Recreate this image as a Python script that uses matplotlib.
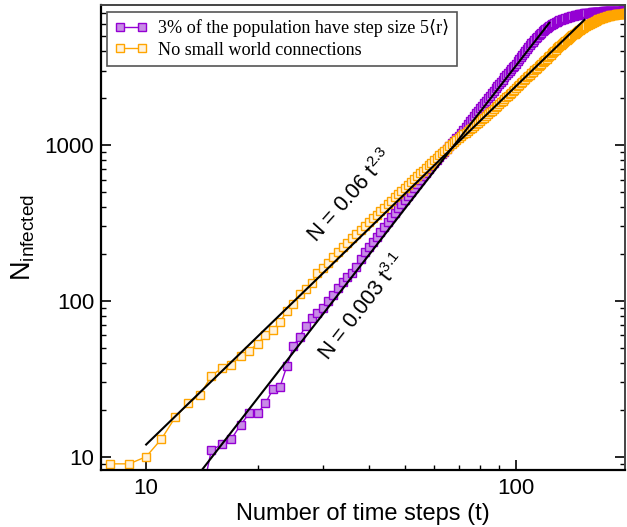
import numpy as np
import matplotlib.pyplot as plt
from matplotlib.ticker import FuncFormatter, NullFormatter, LogLocator

plt.rcParams['font.family'] = ['Liberation Sans', 'DejaVu Sans']
plt.rcParams['mathtext.fontset'] = 'custom'
plt.rcParams['mathtext.rm'] = 'Liberation Sans'
plt.rcParams['mathtext.it'] = 'Liberation Sans:italic'
plt.rcParams['mathtext.bf'] = 'Liberation Sans:bold'

# --- infected counts per time step ---------------------------------------
# 3% of the population with long steps (small world links)
t_sw = np.arange(14, 201)
n_sw = [
    5, 11, 12, 13, 16, 19, 19, 22, 27, 28,
    38, 51, 59, 69, 78, 84, 90, 100, 109, 121,
    132, 142, 150, 166, 186, 205, 222, 240, 258, 278,
    299, 320, 343, 367, 392, 418, 445, 473, 501, 531,
    562, 595, 628, 663, 699, 731, 765, 799, 834, 870,
    908, 945, 984, 1024, 1065, 1107, 1150, 1200, 1252, 1305,
    1360, 1416, 1474, 1533, 1593, 1656, 1720, 1787, 1856, 1926,
    1998, 2072, 2148, 2226, 2305, 2387, 2470, 2549, 2629, 2711,
    2794, 2879, 2966, 3054, 3144, 3236, 3330, 3435, 3541, 3650,
    3763, 3880, 3998, 4116, 4236, 4357, 4480, 4600, 4718, 4834,
    4948, 5060, 5165, 5268, 5368, 5465, 5560, 5646, 5728, 5806,
    5880, 5950, 6016, 6079, 6139, 6196, 6250, 6298, 6345, 6391,
    6436, 6480, 6518, 6555, 6591, 6626, 6660, 6690, 6719, 6747,
    6775, 6802, 6829, 6855, 6881, 6906, 6930, 6950, 6969, 6987,
    7004, 7020, 7036, 7051, 7065, 7078, 7090, 7101, 7111, 7121,
    7130, 7139, 7148, 7157, 7165, 7173, 7180, 7187, 7194, 7200,
    7206, 7212, 7218, 7224, 7230, 7235, 7240, 7245, 7250, 7255,
    7260, 7265, 7269, 7273, 7277, 7281, 7285, 7288, 7291, 7294,
    7297, 7300, 7302, 7304, 7306, 7308, 7310,
]

# no small world connections
t_no = np.arange(8, 201)
n_no = [
    9, 9, 10, 13, 18, 22, 25, 33, 37, 39,
    44, 48, 53, 60, 65, 73, 86, 95, 110, 120,
    130, 152, 162, 176, 192, 206, 221, 236, 252, 268,
    285, 302, 320, 338, 357, 377, 397, 418, 439, 461,
    483, 506, 530, 554, 579, 605, 631, 657, 685, 713,
    741, 770, 800, 829, 858, 887, 918, 948, 980, 1011,
    1044, 1076, 1110, 1139, 1169, 1199, 1230, 1261, 1292, 1323,
    1355, 1388, 1420, 1458, 1498, 1537, 1577, 1618, 1659, 1701,
    1743, 1786, 1830, 1876, 1923, 1970, 2018, 2067, 2116, 2166,
    2217, 2268, 2320, 2374, 2428, 2484, 2540, 2596, 2653, 2711,
    2770, 2830, 2890, 2950, 3011, 3072, 3134, 3196, 3260, 3324,
    3388, 3454, 3520, 3589, 3660, 3731, 3802, 3875, 3948, 4022,
    4097, 4173, 4250, 4318, 4387, 4456, 4525, 4595, 4665, 4737,
    4807, 4878, 4950, 5010, 5070, 5130, 5190, 5250, 5310, 5370,
    5430, 5490, 5550, 5609, 5667, 5724, 5780, 5835, 5890, 5944,
    5997, 6049, 6100, 6146, 6190, 6233, 6275, 6315, 6354, 6392,
    6429, 6465, 6500, 6533, 6564, 6594, 6623, 6651, 6678, 6705,
    6731, 6756, 6780, 6799, 6817, 6834, 6850, 6865, 6880, 6894,
    6907, 6919, 6930, 6940, 6950, 6959, 6968, 6976, 6984, 6991,
    6998, 7004, 7010,
]

# power-law fits N = a * t^b and the t range each one is drawn over
fit_no = (0.06, 2.3, 10, 153)
fit_sw = (0.00251, 3.055, 14, 123)

labels = ['3% of the population have step size 5\u27e8r\u27e9',
          'No small world connections']

# --- figure ---------------------------------------------------------------
fig = plt.figure(figsize=(6.27, 5.27), dpi=100)
ax = fig.add_axes([0.1611, 0.1082, 0.8357, 0.8824])

ax.plot(t_sw, n_sw, '-s', color='#9400d3', mfc='#c88ce6', mec='#9400d3',
        ms=5.6, mew=1, lw=1, label=labels[0])
ax.plot(t_no, n_no, '-s', color='#ffa500', mfc='#fff2dc', mec='#ffa500',
        ms=5.6, mew=1, lw=1, label=labels[1])

for a, b, t0, t1 in (fit_no, fit_sw):
    tt = np.geomspace(t0, t1, 60)
    ax.plot(tt, a * tt ** b, color='black', lw=1.5)

# fit labels, set along each line
ax.text(35.8, 468, f'N = {fit_no[0]:.1g} t$^{{{fit_no[1]:.1f}}}$',
        rotation=48, ha='center', va='center', fontsize=15.5)
ax.text(38.4, 91, f'N = {fit_sw[0]:.1g} t$^{{{fit_sw[1]:.1f}}}$',
        rotation=52, ha='center', va='center', fontsize=15.5)

ax.set_xscale('log')
ax.set_yscale('log')
ax.set_xlim(7.55, 197)
ax.set_ylim(8.22, 7917)

fmt = FuncFormatter(lambda v, p: f'{v:g}')
for axis in (ax.xaxis, ax.yaxis):
    axis.set_major_locator(LogLocator(base=10))
    axis.set_minor_locator(LogLocator(base=10, subs=np.arange(2, 10)))
    axis.set_major_formatter(fmt)
    axis.set_minor_formatter(NullFormatter())

ax.tick_params(which='both', direction='in', top=False, right=True,
               labelsize=16)
ax.tick_params(axis='x', which='both', pad=6)
ax.tick_params(axis='y', which='both', pad=5)
ax.tick_params(which='major', length=7, width=1.2)
ax.tick_params(which='minor', length=3.8, width=1)

for side in ('left', 'bottom'):
    ax.spines[side].set_linewidth(1.6)
    ax.spines[side].set_color('black')
for side in ('top', 'right'):
    ax.spines[side].set_linewidth(1.4)
    ax.spines[side].set_color('#444444')

ax.set_xlabel('Number of time steps (t)', fontsize=17, labelpad=3)
ax.set_ylabel(r'$\mathregular{N_{infected}}$', fontsize=19.5, labelpad=5)

leg = ax.legend(loc='upper left', bbox_to_anchor=(0.0115, 0.985),
                borderaxespad=0, fancybox=False, framealpha=1,
                edgecolor='#555555', numpoints=2,
                prop={'family': ['Liberation Serif', 'DejaVu Sans'], 'size': 13.1},
                handlelength=1.8, handletextpad=0.6, borderpad=0.4,
                labelspacing=0.25)
leg.get_frame().set_linewidth(1.2)

fig.savefig('out.png', dpi=100)
